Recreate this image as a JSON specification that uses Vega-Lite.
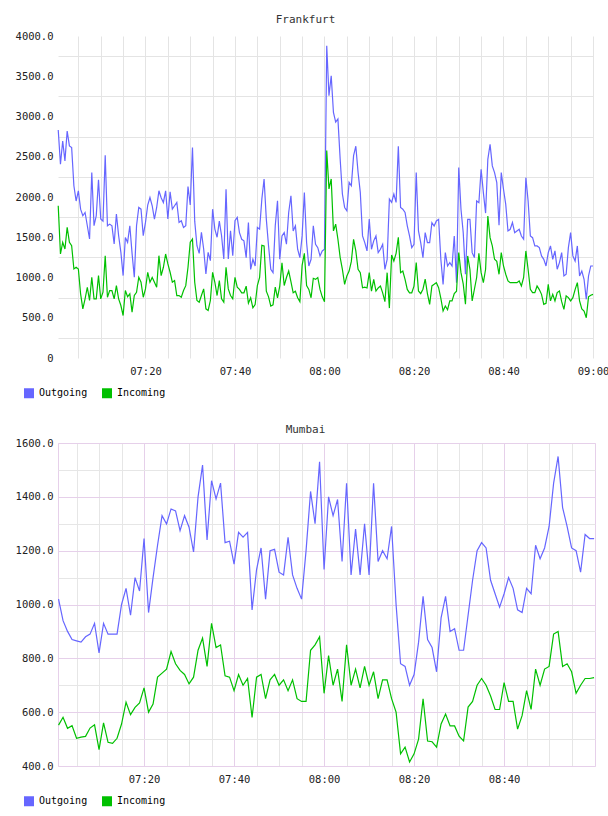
{
"$schema":"https://vega.github.io/schema/vega-lite/v6.json",
"padding":{"left":0,"top":14,"right":0,"bottom":0},
"config":{"view":{"stroke":null},"font":"DejaVu Sans Mono"},
"datasets":{
"fra":[
{"m":0.5,"Outgoing":2833,"Incoming":1891},{"m":1,"Outgoing":2407,"Incoming":1292},{"m":1.5,"Outgoing":2696,"Incoming":1437},{"m":2,"Outgoing":2448,"Incoming":1354},{"m":2.5,"Outgoing":2820,"Incoming":1622},{"m":3,"Outgoing":2634,"Incoming":1437},{"m":3.5,"Outgoing":2614,"Incoming":1395},{"m":4,"Outgoing":2139,"Incoming":1106},{"m":4.5,"Outgoing":1950,"Incoming":1127},{"m":5,"Outgoing":2077,"Incoming":1106},
{"m":5.5,"Outgoing":1849,"Incoming":797},{"m":6,"Outgoing":1767,"Incoming":611},{"m":6.5,"Outgoing":1808,"Incoming":735},{"m":7,"Outgoing":1643,"Incoming":879},{"m":7.5,"Outgoing":1478,"Incoming":714},{"m":8,"Outgoing":2304,"Incoming":1003},{"m":8.5,"Outgoing":1643,"Incoming":735},{"m":9,"Outgoing":1767,"Incoming":735},{"m":9.5,"Outgoing":2213,"Incoming":1024},{"m":10,"Outgoing":1726,"Incoming":735},
{"m":10.5,"Outgoing":1700,"Incoming":817},{"m":11,"Outgoing":2519,"Incoming":1271},{"m":11.5,"Outgoing":1643,"Incoming":755},{"m":12,"Outgoing":1663,"Incoming":838},{"m":12.5,"Outgoing":1643,"Incoming":838},{"m":13,"Outgoing":1416,"Incoming":735},{"m":13.5,"Outgoing":1788,"Incoming":899},{"m":14,"Outgoing":1519,"Incoming":735},{"m":14.5,"Outgoing":1313,"Incoming":652},{"m":15,"Outgoing":1024,"Incoming":528},
{"m":15.5,"Outgoing":1498,"Incoming":838},{"m":16,"Outgoing":1437,"Incoming":760},{"m":16.5,"Outgoing":1643,"Incoming":797},{"m":17,"Outgoing":1300,"Incoming":569},{"m":17.5,"Outgoing":1003,"Incoming":776},{"m":18,"Outgoing":1643,"Incoming":817},{"m":18.5,"Outgoing":1870,"Incoming":1003},{"m":19,"Outgoing":1849,"Incoming":941},{"m":19.5,"Outgoing":1519,"Incoming":755},{"m":20,"Outgoing":1684,"Incoming":858},
{"m":20.5,"Outgoing":1900,"Incoming":1065},{"m":21,"Outgoing":1994,"Incoming":941},{"m":21.5,"Outgoing":1891,"Incoming":1000},{"m":22,"Outgoing":1726,"Incoming":941},{"m":22.5,"Outgoing":1870,"Incoming":879},{"m":23,"Outgoing":2077,"Incoming":1271},{"m":23.5,"Outgoing":1990,"Incoming":1024},{"m":24,"Outgoing":1932,"Incoming":1127},{"m":24.5,"Outgoing":2077,"Incoming":1292},{"m":25,"Outgoing":1726,"Incoming":1168},
{"m":25.5,"Outgoing":2064,"Incoming":1065},{"m":26,"Outgoing":1849,"Incoming":941},{"m":26.5,"Outgoing":1891,"Incoming":962},{"m":27,"Outgoing":1932,"Incoming":776},{"m":27.5,"Outgoing":1684,"Incoming":776},{"m":28,"Outgoing":1705,"Incoming":755},{"m":28.5,"Outgoing":1622,"Incoming":838},{"m":29,"Outgoing":1643,"Incoming":899},{"m":29.5,"Outgoing":2130,"Incoming":1127},{"m":30,"Outgoing":1900,"Incoming":1437},
{"m":30.5,"Outgoing":2614,"Incoming":1478},{"m":31,"Outgoing":1700,"Incoming":941},{"m":31.5,"Outgoing":1395,"Incoming":714},{"m":32,"Outgoing":1300,"Incoming":693},{"m":32.5,"Outgoing":1560,"Incoming":776},{"m":33,"Outgoing":1354,"Incoming":858},{"m":33.5,"Outgoing":1044,"Incoming":611},{"m":34,"Outgoing":1313,"Incoming":590},{"m":34.5,"Outgoing":1209,"Incoming":714},{"m":35,"Outgoing":1849,"Incoming":1065},
{"m":35.5,"Outgoing":1601,"Incoming":941},{"m":36,"Outgoing":1500,"Incoming":776},{"m":36.5,"Outgoing":1700,"Incoming":962},{"m":37,"Outgoing":1519,"Incoming":735},{"m":37.5,"Outgoing":1230,"Incoming":693},{"m":38,"Outgoing":2097,"Incoming":1127},{"m":38.5,"Outgoing":1230,"Incoming":858},{"m":39,"Outgoing":1581,"Incoming":776},{"m":39.5,"Outgoing":1271,"Incoming":735},{"m":40,"Outgoing":1705,"Incoming":1003},
{"m":40.5,"Outgoing":1746,"Incoming":880},{"m":41,"Outgoing":1558,"Incoming":852},{"m":41.5,"Outgoing":1475,"Incoming":810},{"m":42,"Outgoing":1455,"Incoming":810},{"m":42.5,"Outgoing":1247,"Incoming":893},{"m":43,"Outgoing":1683,"Incoming":680},{"m":43.5,"Outgoing":1101,"Incoming":748},{"m":44,"Outgoing":1226,"Incoming":623},{"m":44.5,"Outgoing":1143,"Incoming":665},{"m":45,"Outgoing":1621,"Incoming":900},
{"m":45.5,"Outgoing":1600,"Incoming":1000},{"m":46,"Outgoing":1974,"Incoming":1400},{"m":46.5,"Outgoing":2224,"Incoming":1392},{"m":47,"Outgoing":1725,"Incoming":831},{"m":47.5,"Outgoing":1392,"Incoming":760},{"m":48,"Outgoing":1101,"Incoming":644},{"m":48.5,"Outgoing":1060,"Incoming":660},{"m":49,"Outgoing":1642,"Incoming":880},{"m":49.5,"Outgoing":1953,"Incoming":748},{"m":50,"Outgoing":1226,"Incoming":893},
{"m":50.5,"Outgoing":1517,"Incoming":1184},{"m":51,"Outgoing":1558,"Incoming":900},{"m":51.5,"Outgoing":1413,"Incoming":1000},{"m":52,"Outgoing":1808,"Incoming":1080},{"m":52.5,"Outgoing":2016,"Incoming":950},{"m":53,"Outgoing":1579,"Incoming":810},{"m":53.5,"Outgoing":1642,"Incoming":830},{"m":54,"Outgoing":1351,"Incoming":748},{"m":54.5,"Outgoing":1247,"Incoming":700},{"m":55,"Outgoing":1517,"Incoming":1150},
{"m":55.5,"Outgoing":2057,"Incoming":1300},{"m":56,"Outgoing":1434,"Incoming":900},{"m":56.5,"Outgoing":1143,"Incoming":852},{"m":57,"Outgoing":1226,"Incoming":748},{"m":57.5,"Outgoing":1642,"Incoming":990},{"m":58,"Outgoing":1413,"Incoming":977},{"m":58.5,"Outgoing":1371,"Incoming":1000},{"m":59,"Outgoing":1268,"Incoming":852},{"m":59.5,"Outgoing":1330,"Incoming":760},{"m":60,"Outgoing":1351,"Incoming":700},
{"m":60.5,"Outgoing":3880,"Incoming":2577},{"m":61,"Outgoing":3258,"Incoming":2100},{"m":61.5,"Outgoing":3506,"Incoming":2224},{"m":62,"Outgoing":3050,"Incoming":1579},{"m":62.5,"Outgoing":2930,"Incoming":1662},{"m":63,"Outgoing":2970,"Incoming":1475},{"m":63.5,"Outgoing":2473,"Incoming":1250},{"m":64,"Outgoing":2037,"Incoming":1101},{"m":64.5,"Outgoing":1870,"Incoming":914},{"m":65,"Outgoing":1829,"Incoming":1020},
{"m":65.5,"Outgoing":2182,"Incoming":1080},{"m":66,"Outgoing":2140,"Incoming":1200},{"m":66.5,"Outgoing":2514,"Incoming":1475},{"m":67,"Outgoing":2631,"Incoming":1330},{"m":67.5,"Outgoing":2307,"Incoming":1101},{"m":68,"Outgoing":2057,"Incoming":1060},{"m":68.5,"Outgoing":1517,"Incoming":873},{"m":69,"Outgoing":1434,"Incoming":880},{"m":69.5,"Outgoing":1330,"Incoming":870},{"m":70,"Outgoing":1725,"Incoming":1060},
{"m":70.5,"Outgoing":1351,"Incoming":830},{"m":71,"Outgoing":1455,"Incoming":977},{"m":71.5,"Outgoing":1517,"Incoming":831},{"m":72,"Outgoing":1309,"Incoming":870},{"m":72.5,"Outgoing":1351,"Incoming":893},{"m":73,"Outgoing":1413,"Incoming":810},{"m":73.5,"Outgoing":1101,"Incoming":700},{"m":74,"Outgoing":1226,"Incoming":1060},{"m":74.5,"Outgoing":1974,"Incoming":620},{"m":75,"Outgoing":1933,"Incoming":1280},
{"m":75.5,"Outgoing":2037,"Incoming":1205},{"m":76,"Outgoing":1933,"Incoming":1300},{"m":76.5,"Outgoing":2631,"Incoming":1500},{"m":77,"Outgoing":1870,"Incoming":1060},{"m":77.5,"Outgoing":1849,"Incoming":1080},{"m":78,"Outgoing":1808,"Incoming":977},{"m":78.5,"Outgoing":1642,"Incoming":852},{"m":79,"Outgoing":1517,"Incoming":810},{"m":79.5,"Outgoing":1371,"Incoming":810},{"m":80,"Outgoing":1413,"Incoming":893},
{"m":80.5,"Outgoing":2303,"Incoming":1185},{"m":81,"Outgoing":1578,"Incoming":833},{"m":81.5,"Outgoing":1433,"Incoming":800},{"m":82,"Outgoing":1247,"Incoming":854},{"m":82.5,"Outgoing":1557,"Incoming":980},{"m":83,"Outgoing":1433,"Incoming":800},{"m":83.5,"Outgoing":1433,"Incoming":667},{"m":84,"Outgoing":1682,"Incoming":895},{"m":84.5,"Outgoing":1640,"Incoming":915},{"m":85,"Outgoing":1702,"Incoming":936},
{"m":85.5,"Outgoing":1723,"Incoming":874},{"m":86,"Outgoing":1226,"Incoming":740},{"m":86.5,"Outgoing":915,"Incoming":584},{"m":87,"Outgoing":1309,"Incoming":646},{"m":87.5,"Outgoing":1143,"Incoming":600},{"m":88,"Outgoing":1185,"Incoming":709},{"m":88.5,"Outgoing":1143,"Incoming":709},{"m":89,"Outgoing":1516,"Incoming":800},{"m":89.5,"Outgoing":936,"Incoming":830},{"m":90,"Outgoing":2365,"Incoming":1309},
{"m":90.5,"Outgoing":1847,"Incoming":1060},{"m":91,"Outgoing":1557,"Incoming":920},{"m":91.5,"Outgoing":1040,"Incoming":667},{"m":92,"Outgoing":1723,"Incoming":1268},{"m":92.5,"Outgoing":1723,"Incoming":1100},{"m":93,"Outgoing":1309,"Incoming":709},{"m":93.5,"Outgoing":1247,"Incoming":854},{"m":94,"Outgoing":1951,"Incoming":1000},{"m":94.5,"Outgoing":1930,"Incoming":1300},{"m":95,"Outgoing":2344,"Incoming":1060},
{"m":95.5,"Outgoing":2054,"Incoming":936},{"m":96,"Outgoing":1800,"Incoming":1102},{"m":96.5,"Outgoing":2468,"Incoming":1764},{"m":97,"Outgoing":2655,"Incoming":1495},{"m":97.5,"Outgoing":2386,"Incoming":1392},{"m":98,"Outgoing":2303,"Incoming":1226},{"m":98.5,"Outgoing":2179,"Incoming":1200},{"m":99,"Outgoing":1650,"Incoming":1040},{"m":99.5,"Outgoing":2303,"Incoming":1309},{"m":100,"Outgoing":2096,"Incoming":1143},
{"m":100.5,"Outgoing":1909,"Incoming":1040},{"m":101,"Outgoing":1578,"Incoming":957},{"m":101.5,"Outgoing":1599,"Incoming":936},{"m":102,"Outgoing":1682,"Incoming":936},{"m":102.5,"Outgoing":1557,"Incoming":936},{"m":103,"Outgoing":1578,"Incoming":936},{"m":103.5,"Outgoing":1599,"Incoming":957},{"m":104,"Outgoing":1516,"Incoming":895},{"m":104.5,"Outgoing":1475,"Incoming":1000},{"m":105,"Outgoing":2240,"Incoming":1330},
{"m":105.5,"Outgoing":1950,"Incoming":1100},{"m":106,"Outgoing":1516,"Incoming":854},{"m":106.5,"Outgoing":1495,"Incoming":812},{"m":107,"Outgoing":1392,"Incoming":812},{"m":107.5,"Outgoing":1392,"Incoming":895},{"m":108,"Outgoing":1371,"Incoming":850},{"m":108.5,"Outgoing":1268,"Incoming":791},{"m":109,"Outgoing":1226,"Incoming":667},{"m":109.5,"Outgoing":1143,"Incoming":680},{"m":110,"Outgoing":1309,"Incoming":915},
{"m":110.5,"Outgoing":1392,"Incoming":709},{"m":111,"Outgoing":1226,"Incoming":791},{"m":111.5,"Outgoing":1330,"Incoming":709},{"m":112,"Outgoing":1102,"Incoming":812},{"m":112.5,"Outgoing":1185,"Incoming":833},{"m":113,"Outgoing":1309,"Incoming":700},{"m":113.5,"Outgoing":1019,"Incoming":605},{"m":114,"Outgoing":1040,"Incoming":771},{"m":114.5,"Outgoing":1371,"Incoming":750},{"m":115,"Outgoing":1557,"Incoming":709},
{"m":115.5,"Outgoing":1268,"Incoming":750},{"m":116,"Outgoing":1205,"Incoming":850},{"m":116.5,"Outgoing":1392,"Incoming":936},{"m":117,"Outgoing":1019,"Incoming":709},{"m":117.5,"Outgoing":1081,"Incoming":610},{"m":118,"Outgoing":978,"Incoming":584},{"m":118.5,"Outgoing":729,"Incoming":500},{"m":119,"Outgoing":1019,"Incoming":760},{"m":119.5,"Outgoing":1143,"Incoming":780},{"m":120,"Outgoing":1143,"Incoming":791}
],
"mum":[
{"m":1,"Outgoing":1020,"Incoming":552},{"m":2,"Outgoing":940,"Incoming":581},{"m":3,"Outgoing":900,"Incoming":540},{"m":4,"Outgoing":870,"Incoming":550},{"m":5,"Outgoing":865,"Incoming":503},{"m":6,"Outgoing":860,"Incoming":507},{"m":7,"Outgoing":880,"Incoming":510},{"m":8,"Outgoing":890,"Incoming":541},{"m":9,"Outgoing":930,"Incoming":553},{"m":10,"Outgoing":820,"Incoming":461},
{"m":11,"Outgoing":930,"Incoming":560},{"m":12,"Outgoing":890,"Incoming":488},{"m":13,"Outgoing":890,"Incoming":484},{"m":14,"Outgoing":890,"Incoming":503},{"m":15,"Outgoing":1000,"Incoming":556},{"m":16,"Outgoing":1060,"Incoming":637},{"m":17,"Outgoing":960,"Incoming":591},{"m":18,"Outgoing":1100,"Incoming":618},{"m":19,"Outgoing":1050,"Incoming":634},{"m":20,"Outgoing":1245,"Incoming":690},
{"m":21,"Outgoing":970,"Incoming":600},{"m":22,"Outgoing":1100,"Incoming":630},{"m":23,"Outgoing":1220,"Incoming":730},{"m":24,"Outgoing":1330,"Incoming":745},{"m":25,"Outgoing":1299,"Incoming":760},{"m":26,"Outgoing":1355,"Incoming":825},{"m":27,"Outgoing":1348,"Incoming":780},{"m":28,"Outgoing":1274,"Incoming":755},{"m":29,"Outgoing":1330,"Incoming":740},{"m":30,"Outgoing":1287,"Incoming":705},
{"m":31,"Outgoing":1195,"Incoming":730},{"m":32,"Outgoing":1400,"Incoming":830},{"m":33,"Outgoing":1518,"Incoming":875},{"m":34,"Outgoing":1240,"Incoming":770},{"m":35,"Outgoing":1460,"Incoming":930},{"m":36,"Outgoing":1392,"Incoming":840},{"m":37,"Outgoing":1451,"Incoming":850},{"m":38,"Outgoing":1230,"Incoming":735},{"m":39,"Outgoing":1235,"Incoming":730},{"m":40,"Outgoing":1150,"Incoming":680},
{"m":41,"Outgoing":1268,"Incoming":740},{"m":42,"Outgoing":1250,"Incoming":700},{"m":43,"Outgoing":1268,"Incoming":725},{"m":44,"Outgoing":980,"Incoming":580},{"m":45,"Outgoing":1130,"Incoming":730},{"m":46,"Outgoing":1210,"Incoming":740},{"m":47,"Outgoing":1020,"Incoming":650},{"m":48,"Outgoing":1200,"Incoming":720},{"m":49,"Outgoing":1205,"Incoming":740},{"m":50,"Outgoing":1120,"Incoming":700},
{"m":51,"Outgoing":1110,"Incoming":720},{"m":52,"Outgoing":1250,"Incoming":680},{"m":53,"Outgoing":1110,"Incoming":720},{"m":54,"Outgoing":1060,"Incoming":650},{"m":55,"Outgoing":1020,"Incoming":640},{"m":56,"Outgoing":1200,"Incoming":640},{"m":57,"Outgoing":1420,"Incoming":830},{"m":58,"Outgoing":1300,"Incoming":850},{"m":59,"Outgoing":1530,"Incoming":880},{"m":60,"Outgoing":1130,"Incoming":670},
{"m":61,"Outgoing":1400,"Incoming":810},{"m":62,"Outgoing":1330,"Incoming":700},{"m":63,"Outgoing":1390,"Incoming":760},{"m":64,"Outgoing":1160,"Incoming":640},{"m":65,"Outgoing":1450,"Incoming":850},{"m":66,"Outgoing":1110,"Incoming":700},{"m":67,"Outgoing":1280,"Incoming":760},{"m":68,"Outgoing":1110,"Incoming":690},{"m":69,"Outgoing":1300,"Incoming":770},{"m":70,"Outgoing":1110,"Incoming":700},
{"m":71,"Outgoing":1450,"Incoming":750},{"m":72,"Outgoing":1160,"Incoming":650},{"m":73,"Outgoing":1200,"Incoming":720},{"m":74,"Outgoing":1170,"Incoming":720},{"m":75,"Outgoing":1290,"Incoming":650},{"m":76,"Outgoing":1000,"Incoming":600},{"m":77,"Outgoing":780,"Incoming":445},{"m":78,"Outgoing":770,"Incoming":470},{"m":79,"Outgoing":700,"Incoming":415},{"m":80,"Outgoing":740,"Incoming":445},
{"m":81,"Outgoing":860,"Incoming":500},{"m":82,"Outgoing":1030,"Incoming":650},{"m":83,"Outgoing":870,"Incoming":493},{"m":84,"Outgoing":840,"Incoming":490},{"m":85,"Outgoing":750,"Incoming":470},{"m":86,"Outgoing":950,"Incoming":556},{"m":87,"Outgoing":1030,"Incoming":593},{"m":88,"Outgoing":900,"Incoming":549},{"m":89,"Outgoing":910,"Incoming":549},{"m":90,"Outgoing":830,"Incoming":511},
{"m":91,"Outgoing":830,"Incoming":493},{"m":92,"Outgoing":960,"Incoming":619},{"m":93,"Outgoing":1090,"Incoming":640},{"m":94,"Outgoing":1200,"Incoming":700},{"m":95,"Outgoing":1230,"Incoming":725},{"m":96,"Outgoing":1210,"Incoming":700},{"m":97,"Outgoing":1090,"Incoming":660},{"m":98,"Outgoing":1040,"Incoming":610},{"m":99,"Outgoing":990,"Incoming":610},{"m":100,"Outgoing":1040,"Incoming":710},
{"m":101,"Outgoing":1100,"Incoming":640},{"m":102,"Outgoing":1060,"Incoming":640},{"m":103,"Outgoing":980,"Incoming":537},{"m":104,"Outgoing":970,"Incoming":587},{"m":105,"Outgoing":1060,"Incoming":680},{"m":106,"Outgoing":1040,"Incoming":610},{"m":107,"Outgoing":1220,"Incoming":760},{"m":108,"Outgoing":1170,"Incoming":700},{"m":109,"Outgoing":1210,"Incoming":760},{"m":110,"Outgoing":1290,"Incoming":770},
{"m":111,"Outgoing":1450,"Incoming":890},{"m":112,"Outgoing":1550,"Incoming":900},{"m":113,"Outgoing":1360,"Incoming":770},{"m":114,"Outgoing":1290,"Incoming":780},{"m":115,"Outgoing":1210,"Incoming":750},{"m":116,"Outgoing":1200,"Incoming":670},{"m":117,"Outgoing":1120,"Incoming":700},{"m":118,"Outgoing":1260,"Incoming":725},{"m":119,"Outgoing":1245,"Incoming":725},{"m":120,"Outgoing":1245,"Incoming":728}
]
},
"vconcat":[
{
"title":{"text":"Frankfurt","font":"DejaVu Sans Mono","fontSize":11,"fontWeight":"normal","color":"#333","anchor":"middle","dx":-20,"offset":-5,"baseline":"bottom"},
"width":535,"height":322,
"data":{"name":"fra"},
"transform":[{"fold":["Outgoing","Incoming"],"as":["series","value"]}],
"mark":{"type":"line","strokeWidth":1.2},
"encoding":{
"x":{"field":"m","type":"quantitative","scale":{"domain":[0.45,120],"nice":false,"zero":false},
"axis":{"values":[5,10,15,20,25,30,35,40,45,50,55,60,65,70,75,80,85,90,95,100,105,110,115,120],"labelExpr":"datum.value % 20 !== 0 ? '' : timeFormat(datetime(2000,0,1,7,datum.value),'%H:%M')","grid":true,"gridColor":"#e4e4e4","ticks":false,"domain":false,"labelPadding":8,"title":null,"labelOverlap":false,"labelFlush":false,"labelBound":false,"labelFont":"DejaVu Sans Mono","labelFontSize":10.5,"labelColor":"#222"}},
"y":{"field":"value","type":"quantitative","scale":{"domain":[0,4000],"nice":false},
"axis":{"values":[0,250,500,750,1000,1250,1500,1750,2000,2250,2500,2750,3000,3250,3500,3750,4000],"labelExpr":"datum.value % 500 !== 0 ? '' : (datum.value === 0 ? '0' : format(datum.value,'.1f'))","grid":true,"gridColor":"#e4e4e4","gridOpacity":{"condition":{"test":"datum.value % 500 === 0","value":0},"value":1},"ticks":false,"domain":false,"labelPadding":5,"title":null,"labelOverlap":false,"labelFlush":false,"labelBound":false,"labelFont":"DejaVu Sans Mono","labelFontSize":10.5,"labelColor":"#222","minExtent":57,"maxExtent":57}},
"color":{"field":"series","type":"nominal","scale":{"domain":["Outgoing","Incoming"],"range":["#6666ff","#00c000"]},
"legend":{"orient":"none","legendX":-34,"legendY":352,"direction":"horizontal","title":null,"symbolType":"square","symbolSize":25,"symbolStrokeWidth":5,"symbolOpacity":1,"labelFont":"DejaVu Sans Mono","labelFontSize":10,"labelColor":"#000","labelOffset":5,"columnPadding":6,"padding":0}}
}
},
{
"title":{"text":"Mumbai","font":"DejaVu Sans Mono","fontSize":11,"fontWeight":"normal","color":"#333","anchor":"middle","dx":-21,"offset":-8,"baseline":"bottom"},
"width":537,"height":323,
"view":{"stroke":"#e6d0ea","strokeWidth":1},
"data":{"name":"mum"},
"transform":[{"fold":["Outgoing","Incoming"],"as":["series","value"]}],
"mark":{"type":"line","strokeWidth":1.2},
"encoding":{
"x":{"field":"m","type":"quantitative","scale":{"domain":[0.88,120.2],"nice":false,"zero":false},
"axis":{"values":[5,10,15,20,25,30,35,40,45,50,55,60,65,70,75,80,85,90,95,100,105,110,115],"labelExpr":"datum.value % 20 !== 0 ? '' : timeFormat(datetime(2000,0,1,7,datum.value),'%H:%M')","grid":true,"gridColor":{"condition":{"test":"datum.value % 20 === 0","value":"#e6d0ea"},"value":"#e6e6e6"},"ticks":false,"domain":false,"labelPadding":8,"title":null,"labelOverlap":false,"labelFlush":false,"labelBound":false,"labelFont":"DejaVu Sans Mono","labelFontSize":10.5,"labelColor":"#222"}},
"y":{"field":"value","type":"quantitative","scale":{"domain":[400,1600],"nice":false,"zero":false},
"axis":{"values":[400,500,600,700,800,900,1000,1100,1200,1300,1400,1500,1600],"labelExpr":"datum.value % 200 !== 0 ? '' : format(datum.value,'.1f')","grid":true,"gridColor":{"condition":{"test":"datum.value % 200 === 0","value":"#e6d0ea"},"value":"#e6e6e6"},"ticks":false,"domain":false,"labelPadding":5,"title":null,"labelOverlap":false,"labelFlush":false,"labelBound":false,"labelFont":"DejaVu Sans Mono","labelFontSize":10.5,"labelColor":"#222","minExtent":57,"maxExtent":57}},
"color":{"field":"series","type":"nominal","scale":{"domain":["Outgoing","Incoming"],"range":["#6666ff","#00c000"]},
"legend":{"orient":"none","legendX":-34,"legendY":353,"direction":"horizontal","title":null,"symbolType":"square","symbolSize":25,"symbolStrokeWidth":5,"symbolOpacity":1,"labelFont":"DejaVu Sans Mono","labelFontSize":10,"labelColor":"#000","labelOffset":5,"columnPadding":6,"padding":0}}
}
}
],
"spacing":85,
"bounds":"flush",
"resolve":{"scale":{"x":"independent","y":"independent","color":"independent"},"legend":{"color":"independent"}}
}
